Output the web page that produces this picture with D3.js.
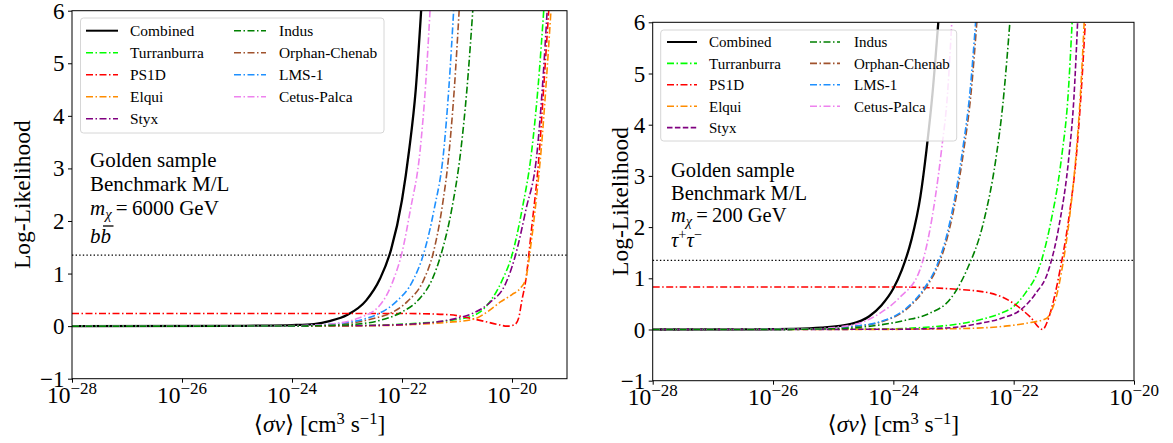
<!DOCTYPE html>
<html>
<head>
<meta charset="utf-8">
<style>
  body { margin: 0; background: #fff; }
  svg { display: block; }
</style>
</head>
<body>
<svg width="1173" height="443"></svg>
<script src="https://cdn.jsdelivr.net/npm/d3@7"></script>
<script>

// points are [log10(<sigma v>), log-likelihood]

var seriesNames = ["Combined", "Turranburra", "PS1D", "Elqui", "Styx", "Indus", "Orphan-Chenab", "LMS-1", "Cetus-Palca"];
var seriesColors = ["#000000", "#00ff00", "#ff0000", "#ff8c00", "#800080", "#008000", "#a0522d", "#1e90ff", "#ee82ee"];
var yTicks = [-1, 0, 1, 2, 3, 4, 5, 6];
var xTicksLeft = [-28, -26, -24, -22, -20];
var xTicksRight = [-28, -26, -24, -22, -20];
var threshold = 1.35;

// left: b bbar, 6000 GeV
var bbCombined = [[-28,0],[-25,0.005],[-24.5,0.01],[-24,0.02],[-23.6,0.04],[-23.3,0.1],[-23,0.21],[-22.65,0.49],[-22.4,0.9],[-22.2,1.45],[-22,2.4],[-21.87,3.35],[-21.75,4.5],[-21.64,6.2]];
var bbTurranburra = [[-28,0],[-23,0.01],[-22.4,0.02],[-21.8,0.05],[-21.2,0.1],[-20.7,0.2],[-20.45,0.4],[-20.18,0.87],[-20,1.35],[-19.82,2.2],[-19.64,3.35],[-19.53,4.5],[-19.41,6.2]];
var bbPS1D = [[-28,0.24],[-22,0.24],[-21.4,0.23],[-21,0.2],[-20.76,0.15],[-20.5,0.09],[-20.25,0.03],[-20.09,0],[-19.95,0.03],[-19.88,0.15],[-19.82,0.49],[-19.75,0.87],[-19.65,1.8],[-19.5,3.35],[-19.42,4.6],[-19.32,6.2]];
var bbElqui = [[-28,0],[-23,0.005],[-22.4,0.01],[-21.8,0.03],[-21.2,0.07],[-20.7,0.13],[-20.45,0.27],[-20.21,0.46],[-20,0.6],[-19.85,0.72],[-19.75,0.9],[-19.65,1.6],[-19.56,2.4],[-19.47,3.35],[-19.38,4.6],[-19.28,6.2]];
var bbStyx = [[-28,0],[-23,0.008],[-22.4,0.015],[-21.8,0.04],[-21.3,0.09],[-21,0.15],[-20.7,0.25],[-20.4,0.45],[-20.12,0.8],[-19.95,1.3],[-19.75,2.2],[-19.54,3.35],[-19.45,4.5],[-19.35,6.2]];
var bbIndus = [[-28,0],[-24,0.002],[-23.3,0.015],[-22.8,0.04],[-22.4,0.11],[-22,0.27],[-21.7,0.5],[-21.46,0.87],[-21.28,1.4],[-21.1,2.2],[-20.93,3.35],[-20.82,4.5],[-20.7,6.2]];
var bbOrphan = [[-28,0],[-24,0.004],[-23.3,0.025],[-22.8,0.08],[-22.5,0.15],[-22.2,0.25],[-21.9,0.47],[-21.61,0.87],[-21.43,1.4],[-21.28,2.2],[-21.14,3.35],[-21.05,4.5],[-20.95,6.2]];
var bbLMS = [[-28,0],[-24,0.005],[-23.4,0.03],[-23,0.07],[-22.7,0.13],[-22.4,0.25],[-22.1,0.47],[-21.8,0.87],[-21.6,1.4],[-21.42,2.2],[-21.24,3.35],[-21.15,4.5],[-21.05,6.2]];
var bbCetus = [[-28,0],[-24.5,0.003],[-23.6,0.02],[-23.2,0.05],[-22.8,0.15],[-22.4,0.4],[-22.16,0.87],[-22,1.4],[-21.85,2.2],[-21.67,3.35],[-21.57,4.6],[-21.48,6.2]];

// right: tau tau, 200 GeV
var ttCombined = [[-28,0],[-26.3,0.004],[-25.7,0.012],[-25.2,0.035],[-24.7,0.11],[-24.4,0.26],[-24.2,0.47],[-24,0.8],[-23.86,1.16],[-23.7,1.75],[-23.55,2.6],[-23.45,3.5],[-23.35,4.6],[-23.24,6.2]];
var ttTurranburra = [[-28,0],[-25,0.005],[-24,0.015],[-23.39,0.05],[-22.9,0.11],[-22.56,0.19],[-22.25,0.3],[-22,0.45],[-21.8,0.72],[-21.59,1.16],[-21.4,2],[-21.2,3.4],[-21.1,4.5],[-21.02,6.2]];
var ttPS1D = [[-28,0.83],[-24,0.83],[-23,0.79],[-22.39,0.71],[-22,0.51],[-21.73,0.25],[-21.52,0],[-21.42,0.22],[-21.33,0.6],[-21.23,1.16],[-21.08,2.2],[-20.95,3.5],[-20.88,4.6],[-20.8,6.2]];
var ttElqui = [[-28,0],[-24,0.003],[-23,0.015],[-22.28,0.05],[-21.8,0.12],[-21.45,0.22],[-21.38,0.35],[-21.3,0.6],[-21.2,1.16],[-21.07,2.2],[-20.95,3.6],[-20.89,4.6],[-20.82,6.2]];
var ttStyx = [[-28,0],[-24,0.005],[-23.11,0.03],[-22.56,0.12],[-22.2,0.22],[-21.89,0.38],[-21.65,0.68],[-21.42,1.16],[-21.25,2],[-21.08,3.4],[-21,4.5],[-20.93,6.2]];
var ttIndus = [[-28,0],[-26,0.002],[-25,0.015],[-24.22,0.09],[-23.8,0.18],[-23.39,0.32],[-23.05,0.6],[-22.78,1.16],[-22.5,2.1],[-22.3,3.3],[-22.18,4.4],[-22.05,6.2]];
var ttOrphan = [[-28,0],[-26,0.002],[-25.3,0.01],[-24.7,0.055],[-24.2,0.15],[-23.78,0.4],[-23.43,0.87],[-23.29,1.16],[-23.08,1.9],[-22.83,3.5],[-22.71,4.6],[-22.6,6.2]];
var ttLMS = [[-28,0],[-26,0.002],[-25.3,0.01],[-24.7,0.06],[-24.22,0.15],[-23.8,0.4],[-23.45,0.87],[-23.31,1.16],[-23.1,1.9],[-22.85,3.5],[-22.73,4.6],[-22.62,6.2]];
var ttCetus = [[-28,0],[-26,0.003],[-25.4,0.01],[-24.9,0.05],[-24.5,0.15],[-24.22,0.32],[-23.9,0.62],[-23.56,1.16],[-23.4,1.9],[-23.2,3.5],[-23.1,4.6],[-23.02,6.2]];

var FONT = '"Liberation Serif", "Times New Roman", "DejaVu Serif", serif';
var DASHDOT = "7,2.5,1.5,2.5";
var DASHED = "5.5,2.4";

var svg = d3.select("svg");

function drawPanel(p) {
  var x = d3.scaleLog().domain([Math.pow(10, p.xmin), Math.pow(10, p.xmax)]).range([p.left, p.right]);
  var y = d3.scaleLinear().domain([-1, 6]).range([p.bottom, p.top]);
  var g = svg.append("g");

  g.append("clipPath").attr("id", p.id + "-clip")
    .append("rect")
      .attr("x", p.left).attr("y", p.top)
      .attr("width", p.right - p.left).attr("height", p.bottom - p.top);

  var line = d3.line()
      .x(function(d) { return x(Math.pow(10, d[0])); })
      .y(function(d) { return y(d[1]); })
      .curve(d3.curveMonotoneX);

  var plot = g.append("g").attr("clip-path", "url(#" + p.id + "-clip)");

  // threshold
  plot.append("line")
      .attr("x1", p.left).attr("x2", p.right)
      .attr("y1", y(threshold)).attr("y2", y(threshold))
      .attr("stroke", "#000").attr("stroke-width", 1.3)
      .attr("stroke-dasharray", "1.4,2.2");

  p.order.forEach(function(i) {
    plot.append("path")
        .datum(p.series[i])
        .attr("fill", "none")
        .attr("stroke", seriesColors[i])
        .attr("stroke-width", i === 0 ? 2.3 : 1.6)
        .attr("stroke-dasharray", i === 0 ? null : p.dash[i])
        .attr("d", line);
  });

  // axes
  var ax = d3.axisBottom(x).tickValues(p.xticks.map(function(e) { return Math.pow(10, e); }))
      .tickSize(4).tickFormat("");
  g.append("g").attr("transform", "translate(0," + p.bottom + ")").call(ax)
    .call(function(s) { s.select(".domain").remove(); s.selectAll("line").attr("stroke", "#000"); });
  var ay = d3.axisLeft(y).tickValues(yTicks).tickSize(4).tickFormat("");
  g.append("g").attr("transform", "translate(" + p.left + ",0)").call(ay)
    .call(function(s) { s.select(".domain").remove(); s.selectAll("line").attr("stroke", "#000"); });

  g.append("rect")
      .attr("x", p.left).attr("y", p.top)
      .attr("width", p.right - p.left).attr("height", p.bottom - p.top)
      .attr("fill", "none").attr("stroke", "#000").attr("stroke-width", 1);

  // tick labels
  p.xticks.forEach(function(e) {
    var t = g.append("text")
        .attr("x", x(Math.pow(10, e))).attr("y", p.bottom + 24.5)
        .attr("text-anchor", "middle")
        .attr("font-family", FONT).attr("font-size", 23.5);
    t.append("tspan").text("10");
    t.append("tspan").attr("dy", -9.5).attr("font-size", 17).text("\u2212" + (-e));
  });
  yTicks.forEach(function(v) {
    g.append("text")
        .attr("x", p.left - 7.5).attr("y", y(v) + 8)
        .attr("text-anchor", "end")
        .attr("font-family", FONT).attr("font-size", 23)
        .text(v < 0 ? "\u2212" + (-v) : v);
  });

  // axis titles
  var xl = g.append("text")
      .attr("x", (p.left + p.right) / 2).attr("y", 432)
      .attr("text-anchor", "middle")
      .attr("font-family", FONT).attr("font-size", 23.5);
  xl.append("tspan").text("\u27e8");
  xl.append("tspan").attr("font-style", "italic").text("\u03c3v");
  xl.append("tspan").text("\u27e9 [cm");
  xl.append("tspan").attr("dy", -8.5).attr("font-size", 16.5).text("3");
  xl.append("tspan").attr("dy", 8.5).text(" s");
  xl.append("tspan").attr("dy", -8.5).attr("font-size", 16.5).text("\u22121");
  xl.append("tspan").attr("dy", 8.5).text("]");

  g.append("text")
      .attr("transform", "translate(" + p.ylabelX + "," + (p.top + p.bottom) / 2 + ") rotate(-90)")
      .attr("text-anchor", "middle")
      .attr("font-family", FONT).attr("font-size", 23.5)
      .text("Log-Likelihood");

  // annotation
  var fs = p.noteSize;
  var n = p.note;
  g.append("text").attr("x", n.x).attr("y", n.y[0])
      .attr("font-family", FONT).attr("font-size", fs).text("Golden sample");
  g.append("text").attr("x", n.x).attr("y", n.y[1])
      .attr("font-family", FONT).attr("font-size", fs).text("Benchmark M/L");
  var m = g.append("text").attr("x", n.x).attr("y", n.y[2])
      .attr("font-family", FONT).attr("font-size", fs);
  m.append("tspan").attr("font-style", "italic").text("m");
  m.append("tspan").attr("font-style", "italic").attr("font-size", fs * 0.7).attr("dy", 4).text("\u03c7");
  m.append("tspan").attr("dy", -4).text("\u2009=\u2009" + p.mass + " GeV");
  var ch = g.append("text").attr("x", n.x).attr("y", n.y[3])
      .attr("font-family", FONT).attr("font-size", fs).attr("font-style", "italic");
  if (p.channel === "bb") {
    ch.text("bb");
    var s = ch.node().getStartPositionOfChar(1), e = ch.node().getEndPositionOfChar(1);
    g.append("line")
        .attr("x1", s.x + 2.5).attr("x2", e.x + 2.5)
        .attr("y1", n.y[3] - 17).attr("y2", n.y[3] - 17)
        .attr("stroke", "#000").attr("stroke-width", 1.3);
  } else {
    ch.append("tspan").text("\u03c4");
    ch.append("tspan").attr("font-style", "normal").attr("font-size", fs * 0.7).attr("dy", -8).text("+");
    ch.append("tspan").attr("dy", 8).text("\u03c4");
    ch.append("tspan").attr("font-style", "normal").attr("font-size", fs * 0.7).attr("dy", -8).text("\u2212");
  }

  // legend
  var L = p.legend;
  g.append("rect")
      .attr("x", L.x).attr("y", L.y).attr("width", L.w).attr("height", L.h)
      .attr("rx", 3)
      .attr("fill", "#fff").attr("fill-opacity", 0.8)
      .attr("stroke", "#d6d6d6").attr("stroke-width", 1);
  seriesNames.forEach(function(name, i) {
    var col = i < 5 ? 0 : 1, row = i < 5 ? i : i - 5;
    var cy = L.row0 + row * L.dy;
    var ln = col === 0 ? L.line1 : L.line2;
    g.append("line")
        .attr("x1", ln[0]).attr("x2", ln[1]).attr("y1", cy).attr("y2", cy)
        .attr("stroke", seriesColors[i])
        .attr("stroke-width", i === 0 ? 2 : 1.6)
        .attr("stroke-dasharray", i === 0 ? null : p.dash[i]);
    g.append("text")
        .attr("x", col === 0 ? L.text1 : L.text2).attr("y", cy + 5.3)
        .attr("font-family", FONT).attr("font-size", L.fs)
        .text(name);
  });
}

drawPanel({
  id: "left", left: 72, right: 567, top: 10.7, bottom: 378.7,
  xmin: -28, xmax: -19, xticks: xTicksLeft,
  series: [bbCombined, bbTurranburra, bbPS1D, bbElqui, bbStyx, bbIndus, bbOrphan, bbLMS, bbCetus],
  dash: [null, DASHDOT, DASHDOT, DASHDOT, DASHDOT, DASHDOT, DASHDOT, DASHDOT, DASHDOT],
  order: [0, 1, 2, 3, 4, 6, 7, 8, 5],
  ylabelX: 30,
  note: { x: 90, y: [167, 191, 215, 243] }, noteSize: 21,
  mass: "6000", channel: "bb",
  legend: { x: 80.5, y: 18, w: 303.5, h: 115, row0: 30.7, dy: 22,
            line1: [86, 118], text1: 130, line2: [234, 266], text2: 279, fs: 15.4 }
});

drawPanel({
  id: "right", left: 652.7, right: 1134, top: 22.3, bottom: 380.7,
  xmin: -28, xmax: -20, xticks: xTicksRight,
  series: [ttCombined, ttTurranburra, ttPS1D, ttElqui, ttStyx, ttIndus, ttOrphan, ttLMS, ttCetus],
  dash: [null, DASHDOT, DASHDOT, DASHDOT, DASHED, DASHDOT, DASHDOT, DASHDOT, DASHDOT],
  order: [0, 1, 2, 3, 4, 6, 7, 8, 5],
  ylabelX: 628,
  note: { x: 671, y: [177, 200, 222, 247] }, noteSize: 20.5,
  mass: "200", channel: "tt",
  legend: { x: 660.7, y: 30, w: 296, h: 111, row0: 42, dy: 21.4,
            line1: [667, 697], text1: 709, line2: [810, 840], text2: 854, fs: 15 }
});

</script>
</body>
</html>
